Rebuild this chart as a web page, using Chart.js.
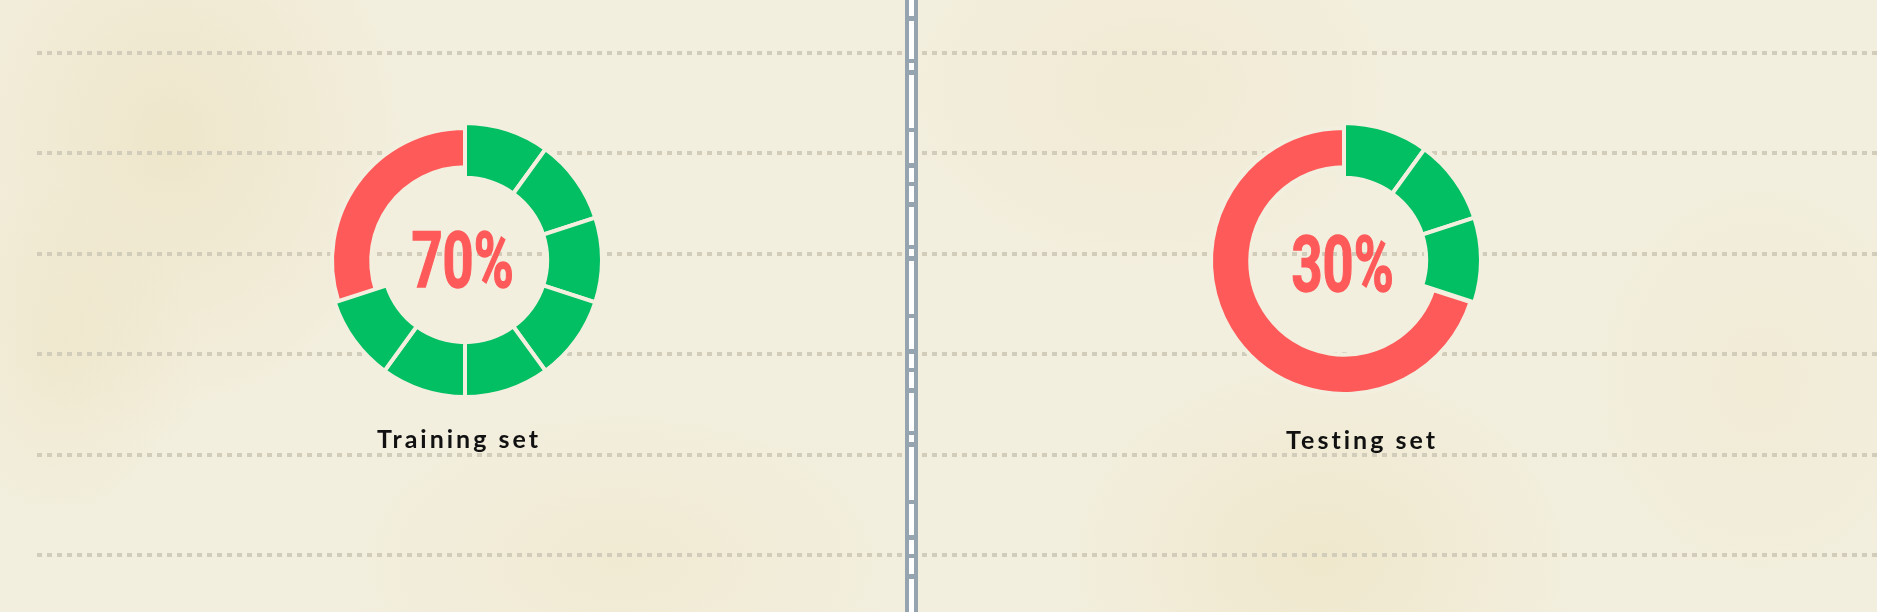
<!DOCTYPE html>
<html>
<head>
<meta charset="utf-8">
<script src="https://cdn.jsdelivr.net/npm/chart.js@4.4.0/dist/chart.umd.min.js"></script>
<style>
  html, body { margin: 0; padding: 0; }
  body {
    width: 1877px; height: 612px; overflow: hidden; position: relative;
    background-color: #f3efdf;
    background-image:
      radial-gradient(ellipse 260px 300px at 170px 140px, rgba(230,214,165,0.35), rgba(230,214,165,0) 100%),
      radial-gradient(ellipse 140px 180px at 60px 360px, rgba(232,220,175,0.30), rgba(232,220,175,0) 100%),
      radial-gradient(ellipse 300px 220px at 1150px 90px, rgba(236,224,186,0.30), rgba(236,224,186,0) 100%),
      radial-gradient(ellipse 280px 220px at 1320px 560px, rgba(232,218,170,0.35), rgba(232,218,170,0) 100%),
      radial-gradient(ellipse 320px 180px at 620px 560px, rgba(234,222,180,0.28), rgba(234,222,180,0) 100%),
      radial-gradient(ellipse 220px 260px at 1760px 380px, rgba(236,226,190,0.28), rgba(236,226,190,0) 100%);
  }
  .rule {
    position: absolute; height: 4px;
    background: repeating-linear-gradient(90deg, #d2ccbb 0 5px, rgba(0,0,0,0) 5px 10px);
  }
  .divider {
    position: absolute; left: 905px; top: 0; width: 13px; height: 612px; background: #95a4ae;
  }
  .divider::after {
    content: ''; position: absolute; left: 4px; width: 5px; top: 0; bottom: 0;
    background: repeating-linear-gradient(180deg,
      #fff 0 16px, rgba(0,0,0,0) 16px 21px,
      #fff 21px 59px, rgba(0,0,0,0) 59px 63px,
      #fff 63px 70px, rgba(0,0,0,0) 70px 75px,
      #fff 75px 128px, rgba(0,0,0,0) 128px 132px,
      #fff 132px 163px, rgba(0,0,0,0) 163px 168px,
      #fff 168px 182px, rgba(0,0,0,0) 182px 186px);
  }
  canvas.ring { position: absolute; }
  .pct {
    position: absolute; line-height: 1; white-space: nowrap;
    font-family: Roboto, "DejaVu Sans", sans-serif;
    font-weight: bold; font-size: 77px; color: #ff5a5a;
    -webkit-text-stroke: 1.5px #ff5a5a;
    transform-origin: 50% 50%;
  }
  .label {
    position: absolute; line-height: 1; white-space: nowrap;
    font-family: Lato, "Open Sans", sans-serif; font-weight: bold;
    font-size: 25px; letter-spacing: 3px; color: #111;
    transform: translateX(-50%);
  }
</style>
</head>
<body>
<div class="divider"></div>
<script>
// data
const sets = ['Training set', 'Testing set'];
const centerText = ['70%', '30%'];
const trainingGreen = [10, 10, 10, 10, 10, 10, 10];
const trainingRed = [30];
const testingGreen = [10, 10, 10];
const testingRed = [70];

const GREEN = '#02bf63';
const RED = '#ff5a5a';
const GAP = '#f3efdf';
const CLEAR = 'rgba(0,0,0,0)';

// layout for each panel
const panels = [
  { cx: 465, cy: 260, green: trainingGreen, red: trainingRed, textX: 462, textY: 261, labelX: 459 },
  { cx: 1344, cy: 260, green: testingGreen, red: testingRed, textX: 1342, textY: 265, labelX: 1362 }
];

// dotted notebook lines
const ruleRows = [53, 153, 254, 354, 455, 555];
ruleRows.forEach(y => {
  [[37, 904], [922, 1877]].forEach(([x0, x1]) => {
    const r = document.createElement('div');
    r.className = 'rule';
    r.style.left = x0 + 'px';
    r.style.width = (x1 - x0) + 'px';
    r.style.top = (y - 2) + 'px';
    document.body.appendChild(r);
  });
});

const SIZE = 300;

function makeRing(cx, cy, values, colors, borders, radius, cutout) {
  const canvas = document.createElement('canvas');
  canvas.className = 'ring';
  canvas.width = SIZE;
  canvas.height = SIZE;
  canvas.style.left = (cx - SIZE / 2) + 'px';
  canvas.style.top = (cy - SIZE / 2) + 'px';
  document.body.appendChild(canvas);

  new Chart(canvas, {
    type: 'doughnut',
    data: {
      labels: values.map((v, i) => 'part ' + (i + 1)),
      datasets: [{
        data: values,
        backgroundColor: colors,
        borderColor: borders,
        borderWidth: 4,
        borderJoinStyle: 'miter'
      }]
    },
    options: {
      responsive: false,
      animation: false,
      devicePixelRatio: 1,
      events: [],
      radius: radius,
      cutout: cutout,
      layout: { padding: 0 },
      plugins: { legend: { display: false }, tooltip: { enabled: false } }
    }
  });
}

panels.forEach((p, i) => {
  const greenTotal = p.green.reduce((a, b) => a + b, 0);
  const redTotal = p.red.reduce((a, b) => a + b, 0);

  // red arc (thinner ring), drawn first so the green blocks sit on top
  makeRing(p.cx, p.cy + 1, [greenTotal, redTotal],
    [CLEAR, RED], [CLEAR, GAP], 133, '70.5%');

  // green blocks (thick ring), remaining share left empty
  makeRing(p.cx, p.cy, [...p.green, redTotal],
    [...p.green.map(() => GREEN), CLEAR],
    [...p.green.map(() => GAP), CLEAR], 137, '60%');

  // big percentage in the middle
  const t = document.createElement('div');
  t.className = 'pct';
  t.textContent = centerText[i];
  document.body.appendChild(t);
  const w = t.offsetWidth, h = t.offsetHeight;
  const sx = 102 / w;
  t.style.left = (p.textX - w / 2) + 'px';
  t.style.top = (p.textY - h / 2) + 'px';
  t.style.transform = 'scaleX(' + sx + ')';

  // caption under the ring
  const l = document.createElement('div');
  l.className = 'label';
  l.textContent = sets[i];
  l.style.left = p.labelX + 'px';
  l.style.top = (426 + i) + 'px';
  document.body.appendChild(l);
});
</script>
</body>
</html>
